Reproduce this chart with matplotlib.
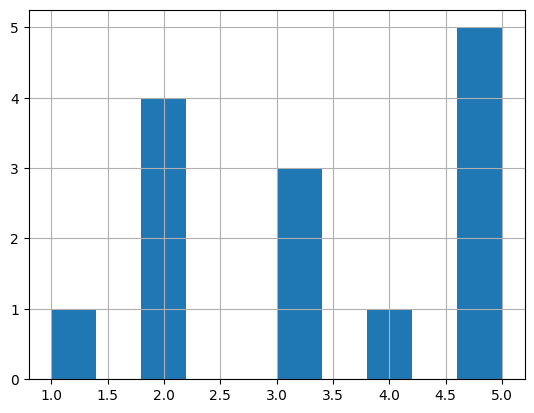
import numpy as np
import matplotlib
matplotlib.use("Agg")
import matplotlib.pyplot as plt

# values and how often each one occurs
values = [1, 2, 3, 4, 5]
counts = [1, 4, 3, 1, 5]

data = np.repeat(values, counts)

fig, ax = plt.subplots(figsize=(6.4, 4.8), dpi=100)
ax.hist(data, bins=10, color="#1f77b4")
ax.grid(True)

fig.savefig("out.png", dpi=100, bbox_inches="tight")
